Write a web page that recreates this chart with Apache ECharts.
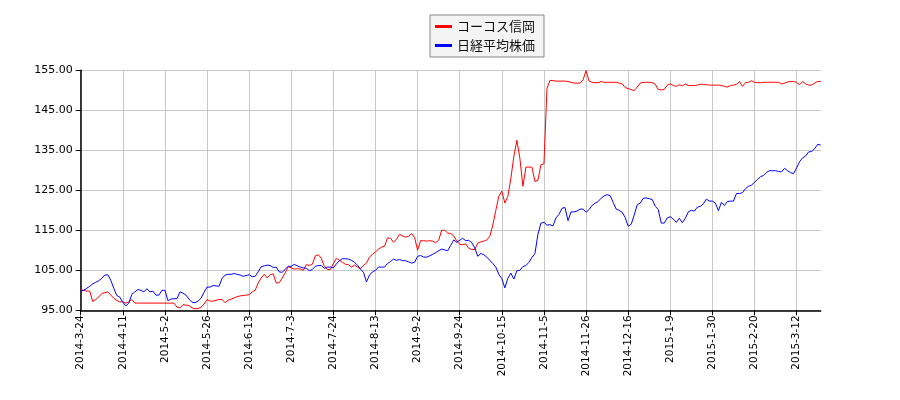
<!DOCTYPE html>
<html>
<head>
<meta charset="utf-8">
<script src="https://cdn.jsdelivr.net/npm/echarts@6/dist/echarts.min.js"></script>
<style>
  html, body { margin: 0; padding: 0; background: #fff; }
  #chart { width: 900px; height: 400px; }
</style>
</head>
<body>
<div id="chart"></div>
<script>
// 取引日 (東証の休日を除く)
var startDate = [2014, 3, 24]
var dayCount = 247
var holidays = [
  '2014-4-29', '2014-5-5', '2014-5-6', '2014-7-21', '2014-9-15', '2014-9-23',
  '2014-10-13', '2014-11-3', '2014-11-24', '2014-12-23', '2014-12-31',
  '2015-1-1', '2015-1-2', '2015-1-12', '2015-2-11'
]

var seriesNames = ['コーコス信岡', '日経平均株価']

// 2014-3-24 を100とした指数
var cocosValues = [
  100.2, 100.0, 99.8, 99.8, 97.2, 97.7, 98.3, 99.2, 99.4, 99.6,
  98.8, 98.0, 97.5, 97.1, 97.1, 96.8, 97.1, 97.7, 96.8, 96.8,
  96.8, 96.8, 96.8, 96.8, 96.8, 96.8, 96.8, 96.8, 96.8, 96.8,
  96.8, 96.8, 95.8, 95.6, 96.4, 96.3, 96.2, 95.6, 95.4, 95.4,
  95.8, 96.5, 97.7, 97.3, 97.3, 97.5, 97.7, 97.7, 96.9, 97.5,
  97.8, 98.1, 98.4, 98.6, 98.7, 98.8, 98.9, 99.6, 100.0, 101.8,
  103.1, 104.0, 103.1, 103.9, 104.1, 101.8, 101.9, 103.1, 104.4, 105.9,
  105.6, 105.3, 105.4, 105.3, 105.0, 106.4, 106.2, 106.5, 108.6, 108.9,
  108.0, 106.0, 105.2, 105.2, 106.7, 108.0, 107.5, 107.0, 106.5, 106.4,
  105.8, 106.3, 105.8, 105.4, 106.2, 106.8, 108.3, 109.0, 109.6, 110.3,
  110.8, 111.0, 113.1, 113.0, 112.0, 112.8, 114.0, 113.6, 113.3, 113.5,
  114.2, 113.2, 110.0, 112.4, 112.4, 112.3, 112.4, 112.3, 111.9, 112.5,
  115.0, 115.0, 114.3, 114.2, 113.6, 112.3, 111.5, 111.4, 111.6, 110.5,
  110.2, 110.2, 111.8, 112.1, 112.3, 112.6, 113.5, 116.3, 120.0, 123.5,
  124.8, 121.8, 123.5, 128.0, 133.5, 137.5, 133.0, 126.0, 130.8, 130.8,
  130.8, 127.2, 127.5, 131.4, 131.6, 150.5, 152.5, 152.4, 152.3, 152.3,
  152.3, 152.3, 152.2, 152.0, 151.8, 151.8, 151.8, 152.6, 154.9, 152.3,
  152.0, 151.9, 151.9, 152.2, 152.0, 152.0, 152.0, 152.0, 152.0, 151.8,
  151.6, 150.7, 150.4, 150.2, 149.9, 150.8, 151.8, 152.0, 152.0, 152.0,
  151.9, 151.5, 150.2, 150.1, 150.2, 151.3, 151.6, 151.2, 151.0, 151.4,
  151.1, 151.6, 151.2, 151.2, 151.2, 151.3, 151.5, 151.5, 151.4, 151.3,
  151.3, 151.3, 151.3, 151.2, 151.0, 150.8, 151.2, 151.3, 151.5, 152.2,
  151.0, 151.9, 152.0, 152.4, 152.0, 151.9, 151.9, 152.0, 152.0, 152.0,
  152.0, 152.0, 152.0, 151.6, 151.8, 152.1, 152.2, 152.2, 152.0, 151.4,
  152.2, 151.6, 151.3, 151.3, 151.8, 152.2, 152.2
]

var nikkeiValues = [
  99.8, 100.0, 100.5, 101.0, 101.6, 102.0, 102.4, 103.0, 103.8, 103.9,
  102.5, 100.5, 98.7, 98.3, 97.0, 96.1, 96.8, 99.0, 99.6, 100.2,
  100.0, 99.6, 100.4, 99.6, 99.8, 98.8, 98.8, 100.0, 100.0, 97.4,
  97.8, 97.9, 97.9, 99.6, 99.3, 98.8, 97.8, 97.0, 96.9, 97.3,
  98.0, 99.5, 100.8, 100.8, 101.2, 101.1, 101.0, 103.0, 103.8, 104.0,
  104.0, 104.2, 104.0, 103.8, 103.5, 103.7, 103.9, 103.4, 103.5, 104.6,
  105.9, 106.1, 106.3, 106.2, 105.7, 105.8, 104.6, 104.5, 105.3, 106.0,
  106.0, 106.5, 106.1, 105.8, 105.6, 105.5, 104.9, 105.2, 106.0, 106.2,
  106.2, 105.5, 105.8, 105.8, 105.6, 106.6, 107.4, 107.9, 107.9, 107.8,
  107.5, 107.0, 106.3, 105.3, 104.5, 102.1, 103.8, 104.6, 105.0, 105.8,
  105.8, 105.8, 106.7, 107.2, 107.8, 107.5, 107.7, 107.4, 107.4, 107.1,
  106.8, 107.0, 108.5, 108.7, 108.3, 108.3, 108.6, 109.0, 109.4, 109.9,
  110.3, 110.1, 109.9, 111.2, 112.6, 112.0, 112.5, 113.0, 112.4, 112.5,
  111.9, 110.6, 108.5, 109.2, 108.9, 108.3, 107.5, 106.7, 105.8, 104.0,
  102.9, 100.6, 103.0, 104.3, 102.8, 104.9, 105.0, 105.9, 106.2, 107.0,
  108.2, 109.2, 114.0, 116.8, 117.0, 116.3, 116.4, 116.1, 118.1, 119.0,
  120.5, 120.7, 117.4, 119.6, 119.6, 119.8, 120.3, 120.3, 119.5, 120.2,
  121.2, 121.8, 122.2, 123.0, 123.6, 123.9, 123.7, 122.0, 120.3, 120.0,
  119.5, 118.2, 116.0, 116.5, 118.8, 121.4, 121.8, 123.0, 123.1, 122.9,
  122.7, 121.0, 120.2, 116.8, 116.8, 118.1, 118.4, 117.8, 117.0, 118.0,
  116.9, 118.0, 119.6, 120.0, 119.8, 120.8, 121.0, 121.6, 122.8, 122.3,
  122.3, 121.8, 119.9, 122.0, 121.2, 122.2, 122.3, 122.3, 124.2, 124.2,
  124.4, 125.4, 126.0, 126.3, 127.0, 127.7, 128.4, 128.7, 129.5, 129.9,
  129.9, 129.9, 129.7, 129.6, 130.5, 129.9, 129.4, 129.2, 130.6, 132.2,
  133.1, 133.6, 134.6, 134.7, 135.4, 136.5, 136.3
]

var yMin = 95
var yMax = 155
var yStep = 10
var labelStep = 14 // 14取引日ごとに目盛り

// 取引日のラベルを作る
function makeDates() {
  var list = []
  var d = new Date(Date.UTC(startDate[0], startDate[1] - 1, startDate[2]))
  while (list.length < dayCount) {
    var wd = d.getUTCDay()
    var s = d.getUTCFullYear() + '-' + (d.getUTCMonth() + 1) + '-' + d.getUTCDate()
    if (wd !== 0 && wd !== 6 && holidays.indexOf(s) < 0) list.push(s)
    d.setUTCDate(d.getUTCDate() + 1)
  }
  return list
}
var dates = makeDates()

var jpFont = '"Noto Sans CJK JP", "Noto Sans", sans-serif'
var axisFont = '"DejaVu Sans", sans-serif'
var myChart = echarts.init(document.getElementById('chart'))

var option = {
  animation: false,
  textStyle: { fontFamily: jpFont },
  legend: {
    data: seriesNames,
    orient: 'vertical',
    left: 430,
    top: 15,
    padding: [5, 9, 5, 5],
    itemGap: 6,
    itemWidth: 17,
    itemHeight: 3,
    icon: 'rect',
    backgroundColor: '#f4f4f4',
    borderColor: '#888',
    borderWidth: 1,
    borderRadius: 0,
    textStyle: { fontFamily: jpFont, fontSize: 13, color: '#111' }
  },
  grid: { left: 80.7, right: 79.3, top: 70.3, bottom: 89.7, containLabel: false },
  xAxis: {
    type: 'category',
    data: dates,
    boundaryGap: false,
    axisLine: { lineStyle: { color: '#000', width: 1.5 } },
    axisTick: { interval: labelStep - 1, length: 5, lineStyle: { color: '#000' } },
    axisLabel: {
      interval: labelStep - 1,
      rotate: 90,
      fontFamily: axisFont,
      fontSize: 10.5,
      color: '#000',
      margin: 5
    },
    splitLine: { show: true, interval: labelStep - 1, lineStyle: { color: '#c8c8c8', width: 1 } }
  },
  yAxis: {
    type: 'value',
    min: yMin,
    max: yMax,
    interval: yStep,
    axisLine: { show: true, lineStyle: { color: '#000', width: 1.5 } },
    axisTick: { show: true, length: 5, lineStyle: { color: '#000' } },
    axisLabel: {
      fontFamily: axisFont,
      fontSize: 11,
      color: '#000',
      margin: 8,
      formatter: function(v) { return v.toFixed(2) }
    },
    splitLine: { lineStyle: { color: '#c8c8c8', width: 1 } }
  },
  series: [
    {
      name: seriesNames[0],
      type: 'line',
      data: cocosValues,
      showSymbol: false,
      color: '#ff0000',
      lineStyle: { width: 1 }
    },
    {
      name: seriesNames[1],
      type: 'line',
      data: nikkeiValues,
      showSymbol: false,
      color: '#0000ff',
      lineStyle: { width: 1 }
    }
  ]
}

myChart.setOption(option)
</script>
</body>
</html>
